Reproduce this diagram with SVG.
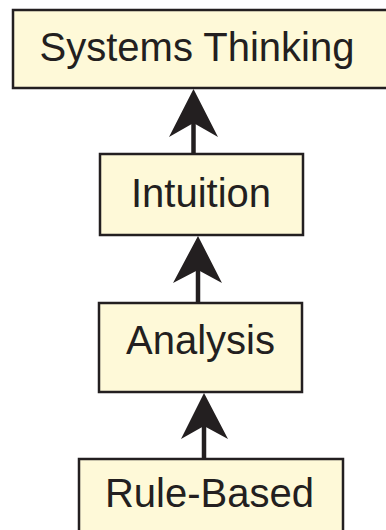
<svg xmlns="http://www.w3.org/2000/svg" width="386" height="530" viewBox="0 0 386 530">
<style>
.box{fill:#fef9d8;stroke:#231f20;stroke-width:2.5}
.lbl{font-family:"Liberation Sans",Arial,sans-serif;font-size:40px;fill:#231f20;text-anchor:middle}
.ln{stroke:#231f20;stroke-width:4.5;fill:none}
.ah{fill:#231f20}
</style>
<rect width="386" height="530" fill="#ffffff"/>
<g id="systems-thinking">
<rect class="box" x="13" y="10" width="380" height="78"/>
<text class="lbl" x="197" y="61">Systems Thinking</text>
</g>
<g id="intuition">
<rect class="box" x="100" y="154" width="203" height="81"/>
<text class="lbl" x="201" y="207">Intuition</text>
</g>
<g id="analysis">
<rect class="box" x="99" y="303" width="203" height="89"/>
<text class="lbl" x="200.5" y="354">Analysis</text>
</g>
<g id="rule-based">
<rect class="box" x="79" y="459" width="264" height="80"/>
<text class="lbl" x="209.5" y="507">Rule-Based</text>
</g>
<g id="connectors">
<line class="ln" x1="193.5" y1="154" x2="193.5" y2="120"/>
<polygon class="ah" points="193.5,89 218,137 193.5,123 169,137"/>
<line class="ln" x1="198" y1="303" x2="198" y2="268"/>
<polygon class="ah" points="198,236 222,283 198,270 173,283"/>
<line class="ln" x1="204" y1="459" x2="204" y2="425"/>
<polygon class="ah" points="204,393 228,439 204,426 181,439"/>
</g>
</svg>
